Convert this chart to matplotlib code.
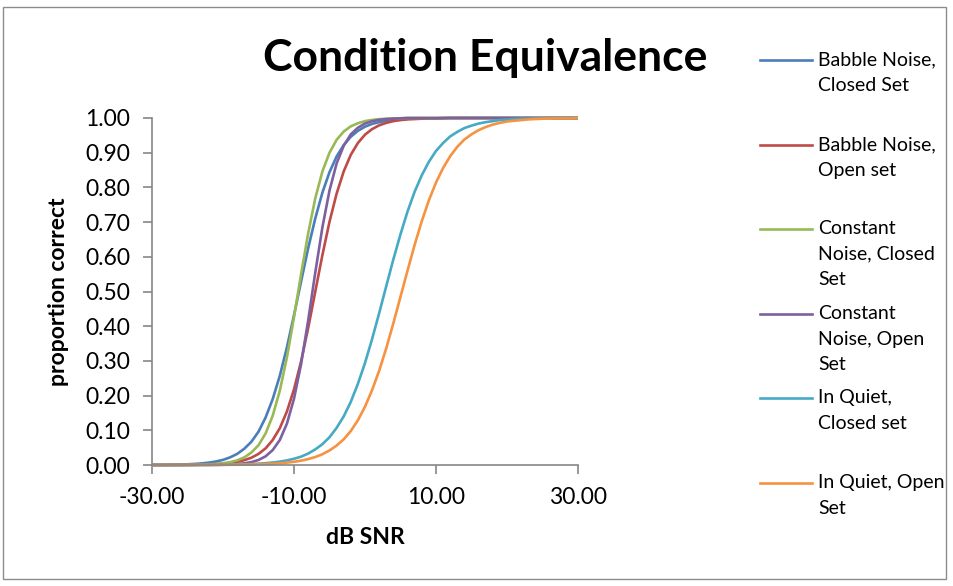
import matplotlib
matplotlib.use("Agg")
import matplotlib.pyplot as plt
from matplotlib.lines import Line2D
from matplotlib.patches import Rectangle

plt.rcParams['font.family'] = ['Lato', 'DejaVu Sans']

# dB SNR grid and proportion correct
snr = list(range(-30, 31))

babble_closed = [0.0003, 0.0004, 0.0007, 0.001, 0.0014, 0.0021, 0.0031, 0.0046, 0.0068, 0.0101,
                 0.0148, 0.022, 0.032, 0.047, 0.067, 0.096, 0.137, 0.190, 0.257, 0.339,
                 0.432, 0.529, 0.625, 0.711, 0.785, 0.844, 0.889, 0.922, 0.946, 0.963,
                 0.975, 0.983, 0.988, 0.992, 0.995, 0.996, 0.998, 0.998, 0.999, 0.999,
                 0.999, 1.0, 1.0, 1.0, 1.0, 1.0, 1.0, 1.0, 1.0, 1.0,
                 1.0, 1.0, 1.0, 1.0, 1.0, 1.0, 1.0, 1.0, 1.0, 1.0, 1.0]
babble_open = [0.0001, 0.0001, 0.0001, 0.0002, 0.0003, 0.0005, 0.0007, 0.0011, 0.0017, 0.0026,
               0.0040, 0.0060, 0.0092, 0.014, 0.021, 0.032, 0.048, 0.072, 0.106, 0.154,
               0.218, 0.299, 0.395, 0.500, 0.605, 0.701, 0.782, 0.846, 0.894, 0.928,
               0.952, 0.968, 0.979, 0.986, 0.991, 0.994, 0.996, 0.997, 0.998, 0.999,
               0.999, 0.999, 1.0, 1.0, 1.0, 1.0, 1.0, 1.0, 1.0, 1.0,
               1.0, 1.0, 1.0, 1.0, 1.0, 1.0, 1.0, 1.0, 1.0, 1.0, 1.0]
constant_closed = [0.0, 0.0001, 0.0001, 0.0002, 0.0002, 0.0004, 0.0007, 0.0011, 0.0018, 0.0030,
                   0.0050, 0.0082, 0.0134, 0.022, 0.036, 0.057, 0.091, 0.142, 0.214, 0.310,
                   0.426, 0.550, 0.668, 0.769, 0.846, 0.900, 0.937, 0.961, 0.976, 0.985,
                   0.991, 0.9945, 0.9967, 0.998, 0.9988, 0.9993, 1.0, 1.0, 1.0, 1.0,
                   1.0, 1.0, 1.0, 1.0, 1.0, 1.0, 1.0, 1.0, 1.0, 1.0,
                   1.0, 1.0, 1.0, 1.0, 1.0, 1.0, 1.0, 1.0, 1.0, 1.0, 1.0]
constant_open = [0.0, 0.0, 0.0, 0.0, 0.0, 0.0001, 0.0001, 0.0002, 0.0003, 0.0005,
                 0.0009, 0.0016, 0.0028, 0.0048, 0.0083, 0.0145, 0.025, 0.043, 0.072, 0.119,
                 0.191, 0.291, 0.417, 0.555, 0.685, 0.791, 0.869, 0.920, 0.953, 0.972,
                 0.984, 0.9907, 0.9946, 0.9969, 0.9982, 0.999, 1.0, 1.0, 1.0, 1.0,
                 1.0, 1.0, 1.0, 1.0, 1.0, 1.0, 1.0, 1.0, 1.0, 1.0,
                 1.0, 1.0, 1.0, 1.0, 1.0, 1.0, 1.0, 1.0, 1.0, 1.0, 1.0]
quiet_closed = [0.0, 0.0, 0.0001, 0.0001, 0.0001, 0.0002, 0.0002, 0.0003, 0.0004, 0.0006,
                0.0008, 0.0011, 0.0015, 0.0021, 0.0028, 0.0038, 0.0052, 0.0071, 0.0097, 0.0132,
                0.018, 0.024, 0.033, 0.045, 0.060, 0.080, 0.107, 0.140, 0.182, 0.234,
                0.294, 0.363, 0.438, 0.516, 0.593, 0.665, 0.731, 0.788, 0.835, 0.874,
                0.905, 0.928, 0.947, 0.960, 0.971, 0.978, 0.984, 0.988, 0.991, 0.994,
                0.995, 0.997, 0.998, 0.998, 0.999, 0.999, 0.999, 1.0, 1.0, 1.0, 1.0]
quiet_open = [0.0, 0.0, 0.0, 0.0, 0.0001, 0.0001, 0.0001, 0.0002, 0.0002, 0.0003,
              0.0004, 0.0006, 0.0008, 0.0011, 0.0015, 0.0020, 0.0027, 0.0037, 0.0050, 0.0068,
              0.0092, 0.0125, 0.017, 0.023, 0.031, 0.042, 0.056, 0.074, 0.098, 0.129,
              0.168, 0.216, 0.272, 0.337, 0.409, 0.485, 0.561, 0.635, 0.703, 0.763,
              0.814, 0.856, 0.890, 0.917, 0.938, 0.953, 0.965, 0.974, 0.981, 0.986,
              0.990, 0.992, 0.994, 0.996, 0.997, 0.998, 0.998, 0.999, 0.999, 0.999, 1.0]

series = [babble_closed, babble_open, constant_closed, constant_open, quiet_closed, quiet_open]
labels = ['Babble Noise,\nClosed Set', 'Babble Noise,\nOpen set', 'Constant\nNoise, Closed\nSet',
          'Constant\nNoise, Open\nSet', 'In Quiet,\nClosed set', 'In Quiet, Open\nSet']
colors = ['#4A7EBB', '#BE4B48', '#98B954', '#7D60A0', '#46AAC5', '#F69240']

W, H = 954, 586
fig = plt.figure(figsize=(W / 100, H / 100), dpi=100)
ax = fig.add_axes([152 / W, 1 - 465 / H, (578 - 152) / W, (465 - 118) / H])

for y, c in zip(series, colors):
    ax.plot(snr, y, color=c, lw=1.9, clip_on=False, solid_capstyle='butt')

ax.set_xlim(-30, 30)
ax.set_ylim(0, 1)
ax.set_xticks([-30, -10, 10, 30])
ax.set_xticklabels(['-30.00', '-10.00', '10.00', '30.00'])
ax.set_yticks([i / 10 for i in range(11)])
ax.set_yticklabels(['%.2f' % (i / 10) for i in range(11)])
for s in ['top', 'right']:
    ax.spines[s].set_visible(False)
for s in ['left', 'bottom']:
    ax.spines[s].set_color('#868686')
    ax.spines[s].set_linewidth(1.2)
ax.tick_params(direction='out', length=6.5, width=1.2, color='#868686', labelsize=16.5, pad=9)
ax.tick_params(axis='x', pad=9)
ax.set_xlabel('dB SNR', fontsize=16.5, fontweight='bold', labelpad=14)
ax.set_ylabel('proportion correct', fontsize=16.5, fontweight='bold', labelpad=12)

fig.text(485 / W, 1 - 58 / H, 'Condition Equivalence', fontsize=32, fontweight='bold',
         ha='center', va='center')

# legend drawn by hand, Excel style
leg_y = [60, 145, 229, 314, 398, 483]
for yy, lab, c in zip(leg_y, labels, colors):
    fig.add_artist(Line2D([760 / W, 812 / W], [1 - yy / H, 1 - yy / H], color=c, lw=1.9,
                          transform=fig.transFigure))
    fig.text(818 / W, 1 - (yy - 9) / H, lab, fontsize=14, ha='left', va='top', linespacing=1.62)

fig.add_artist(Rectangle((3 / W, 1 - 579 / H), 943 / W, 572 / H, fill=False,
                         edgecolor='#8c8c8c', lw=1, transform=fig.transFigure))

fig.savefig('out.png', dpi=100)
